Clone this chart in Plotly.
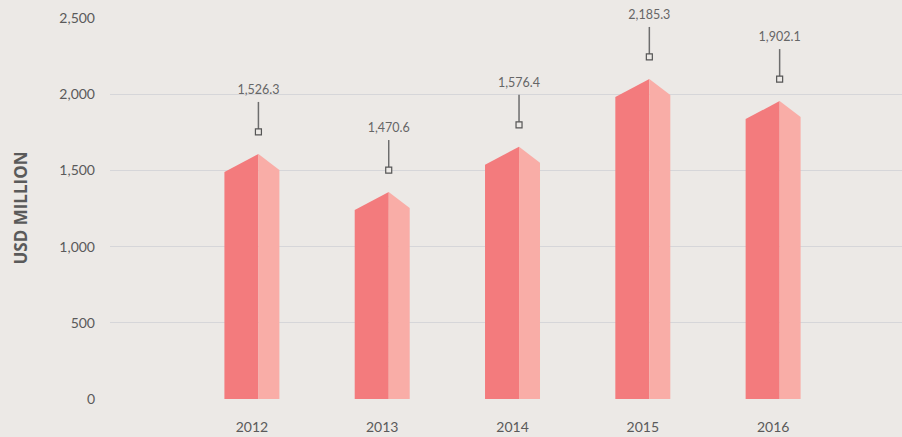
import plotly.graph_objects as go

years = ['2012', '2013', '2014', '2015', '2016']
values = [1526.3, 1470.6, 1576.4, 2185.3, 1902.1]
# ridge heights of the prism bars as drawn (not to scale with the labels)
bar_peaks = [1608, 1358, 1655, 2100, 1955]

y_ticks = [0, 500, 1000, 1500, 2000, 2500]

LEFT_C = '#f37b7d'
RIGHT_C = '#f9ada7'
BG = '#ece9e6'
GRID = '#d6d6d9'

U = 2500 / 381.0  # data units per pixel

fig = go.Figure()

for i, (yr, pk) in enumerate(zip(years, bar_peaks)):
    xl, xm, xr = i - 0.211, i + 0.05, i + 0.211
    fig.add_trace(go.Scatter(
        x=[xl, xl, xm, xm, xl], y=[0, pk - 18 * U, pk, 0, 0],
        fill='toself', fillcolor=LEFT_C, mode='lines', line=dict(width=0),
        hoverinfo='skip', showlegend=False))
    fig.add_trace(go.Scatter(
        x=[xm, xm, xr, xr, xm], y=[0, pk, pk - 16 * U, 0, 0],
        fill='toself', fillcolor=RIGHT_C, mode='lines', line=dict(width=0),
        hoverinfo='skip', showlegend=False))

# leader lines with square markers and value labels
lx, ly = [], []
for i, pk in enumerate(bar_peaks):
    lx += [i + 0.05, i + 0.05, None]
    ly += [pk + 22 * U, pk + 52 * U, None]
fig.add_trace(go.Scatter(x=lx, y=ly, mode='lines', line=dict(color='#6d6d6d', width=1.5),
                         hoverinfo='skip', showlegend=False, cliponaxis=False))
fig.add_trace(go.Scatter(
    x=[i + 0.05 for i in range(len(years))], y=[pk + 22 * U for pk in bar_peaks],
    mode='markers', marker=dict(symbol='square', size=6, color=BG,
                                line=dict(color='#555555', width=1.2)),
    hoverinfo='skip', showlegend=False, cliponaxis=False))
fig.add_trace(go.Scatter(
    x=[i + 0.05 for i in range(len(years))], y=[pk + 57 * U for pk in bar_peaks],
    mode='text', text=[f'{v:,.1f}' for v in values], textposition='top center',
    textfont=dict(family='Lato', size=12.5, color='#666666'),
    hoverinfo='skip', showlegend=False, cliponaxis=False))

fig.update_layout(
    width=902, height=437,
    margin=dict(l=110, r=0, t=18, b=38),
    paper_bgcolor=BG, plot_bgcolor=BG,
    font=dict(family='Lato', color='#5a5a5a'),
    xaxis=dict(range=[-1.089, 4.989], tickmode='array', tickvals=list(range(len(years))),
               ticktext=years, showgrid=False, zeroline=False, showline=False,
               tickfont=dict(size=14, color='#5a5a5a'), ticklabelstandoff=18),
    yaxis=dict(range=[0, 2500], tickvals=y_ticks, tickformat=',', showgrid=True,
               gridcolor=GRID, gridwidth=1.2, zeroline=False, showline=False,
               tickfont=dict(size=14, color='#5a5a5a'), ticklabelstandoff=14),
    annotations=[dict(text='<b>USD MILLION</b>', xref='paper', yref='paper', x=0, y=0.5,
                      xanchor='center', yanchor='middle', xshift=-90, textangle=-90,
                      showarrow=False, font=dict(family='Open Sans', size=17, color='#5a5a5a'))],
)

fig.write_html('out.html', config={'displayModeBar': False},
               post_script="document.body.style.margin='0';")
